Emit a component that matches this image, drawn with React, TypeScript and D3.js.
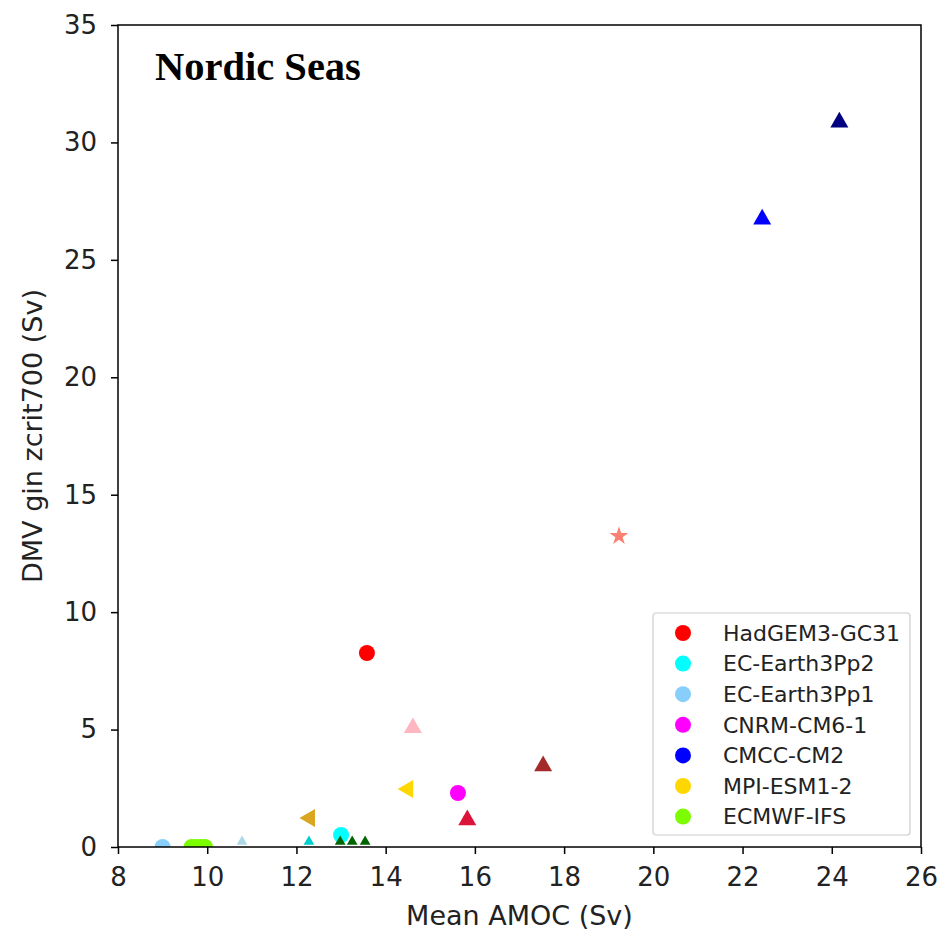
import * as d3 from "d3";
import React, { useEffect, useRef } from "react";

// legend entries (circle markers)
const models = ["HadGEM3-GC31", "EC-Earth3Pp2", "EC-Earth3Pp1", "CNRM-CM6-1", "CMCC-CM2", "MPI-ESM1-2", "ECMWF-IFS"];
const modelColors = ["#ff0000", "#00ffff", "#87cefa", "#ff00ff", "#0000ff", "#ffd700", "#7cfc00"];

// circles: one per model run
const circleX = [13.58, 13.0, 9.0, 15.62, 9.65, 9.75, 9.85, 9.95];
const circleY = [8.26, 0.51, 0.0, 2.3, 0.0, 0.0, 0.0, 0.0];
const circleColors = ["#ff0000", "#00ffff", "#87cefa", "#ff00ff", "#7cfc00", "#7cfc00", "#7cfc00", "#7cfc00"];

// other markers
const markX = [24.17, 22.44, 14.61, 17.53, 15.83, 14.5, 12.3, 19.23, 10.78, 12.28, 12.98, 13.25, 13.54];
const markY = [30.86, 26.73, 5.07, 3.45, 1.15, 2.47, 1.23, 13.24, 0.1, 0.1, 0.1, 0.1, 0.1];
const markColors = ["#000080", "#0000ff", "#ffb6c1", "#a52a2a", "#dc143c", "#ffd700", "#daa520", "#fa8072", "#add8e6", "#00ced1", "#006400", "#006400", "#006400"];
const markShapes = ["up", "up", "up", "up", "up", "left", "left", "star", "small", "small", "small", "small", "small"];

const xTicks = [8, 10, 12, 14, 16, 18, 20, 22, 24, 26];
const yTicks = [0, 5, 10, 15, 20, 25, 30, 35];

const W = 942;
const H = 930;
const m = { left: 118, right: 21, top: 25, bottom: 83 };

export default function App() {
  const ref = useRef<SVGSVGElement>(null);

  useEffect(() => {
    const svg = d3.select(ref.current);
    svg.selectAll("*").remove();

    const x = d3.scaleLinear().domain([8, 26]).range([m.left, W - m.right]);
    const y = d3.scaleLinear().domain([0, 35]).range([H - m.bottom, m.top]);
    const font = "DejaVu Sans, sans-serif";

    svg.append("defs").append("clipPath").attr("id", "plotclip")
      .append("rect")
      .attr("x", m.left).attr("y", m.top)
      .attr("width", W - m.left - m.right).attr("height", H - m.top - m.bottom);

    const plot = svg.append("g").attr("clip-path", "url(#plotclip)");

    plot.selectAll(".dot")
      .data(circleX)
      .join("circle")
      .attr("class", "dot")
      .attr("cx", (d) => x(d))
      .attr("cy", (d, i) => y(circleY[i]))
      .attr("r", 8)
      .attr("fill", (d, i) => circleColors[i]);

    const symFor = (s: string) => {
      if (s === "star") return d3.symbol().type(d3.symbolStar).size(110)();
      if (s === "small") return d3.symbol().type(d3.symbolTriangle).size(50)();
      return d3.symbol().type(d3.symbolTriangle).size(140)();
    };

    plot.selectAll(".mark")
      .data(markX)
      .join("path")
      .attr("class", "mark")
      .attr("d", (d, i) => symFor(markShapes[i]))
      .attr("transform", (d, i) => {
        const rot = markShapes[i] === "left" ? " rotate(-90)" : "";
        const dy = markShapes[i] === "small" ? -3 : 0;
        return `translate(${x(d)},${y(markY[i]) + dy})${rot}`;
      })
      .attr("fill", (d, i) => markColors[i]);

    // frame
    svg.append("rect")
      .attr("x", m.left).attr("y", m.top)
      .attr("width", W - m.left - m.right).attr("height", H - m.top - m.bottom)
      .attr("fill", "none").attr("stroke", "#000").attr("stroke-width", 1.5);

    const xAxis = svg.append("g")
      .attr("transform", `translate(0,${H - m.bottom})`)
      .call(d3.axisBottom(x).tickValues(xTicks).tickSize(7).tickPadding(12).tickFormat(d3.format("d")));
    const yAxis = svg.append("g")
      .attr("transform", `translate(${m.left},0)`)
      .call(d3.axisLeft(y).tickValues(yTicks).tickSize(7).tickPadding(14).tickFormat(d3.format("d")));

    [xAxis, yAxis].forEach((a) => {
      a.select(".domain").remove();
      a.selectAll("line").attr("stroke", "#000").attr("stroke-width", 1.5);
      a.selectAll("text").attr("font-family", font).attr("font-size", 26).attr("fill", "#222");
    });
    xAxis.selectAll("text").attr("dy", "0.75em");

    svg.append("text")
      .attr("x", x(17)).attr("y", 925)
      .attr("text-anchor", "middle")
      .attr("font-family", font).attr("font-size", 27).attr("fill", "#222")
      .text("Mean AMOC (Sv)");

    svg.append("text")
      .attr("transform", `translate(42,${y(17.5)}) rotate(-90)`)
      .attr("text-anchor", "middle")
      .attr("font-family", font).attr("font-size", 27).attr("fill", "#222")
      .text("DMV gin zcrit700 (Sv)");

    svg.append("text")
      .attr("x", 155).attr("y", 80)
      .attr("font-family", "Liberation Serif, serif").attr("font-weight", "bold")
      .attr("font-size", 40.5).attr("fill", "#000")
      .text("Nordic Seas");

    // legend
    const lg = svg.append("g").attr("transform", "translate(653,613)");
    lg.append("rect")
      .attr("width", 257).attr("height", 222).attr("rx", 3)
      .attr("fill", "#fff").attr("fill-opacity", 0.8)
      .attr("stroke", "#ccc").attr("stroke-width", 1.2);
    const rows = lg.selectAll(".row")
      .data(models)
      .join("g")
      .attr("class", "row")
      .attr("transform", (d, i) => `translate(0,${20 + i * 30.6})`);
    rows.append("circle").attr("cx", 30).attr("cy", 0).attr("r", 8)
      .attr("fill", (d, i) => modelColors[i]);
    rows.append("text").attr("x", 70).attr("y", 0).attr("dy", "0.35em")
      .attr("font-family", font).attr("font-size", 22).attr("fill", "#222")
      .text((d) => d);
  }, []);

  return (
    <svg ref={ref} width={W} height={H} style={{ position: "absolute", left: 0, top: 0, background: "#fff" }} />
  );
}
